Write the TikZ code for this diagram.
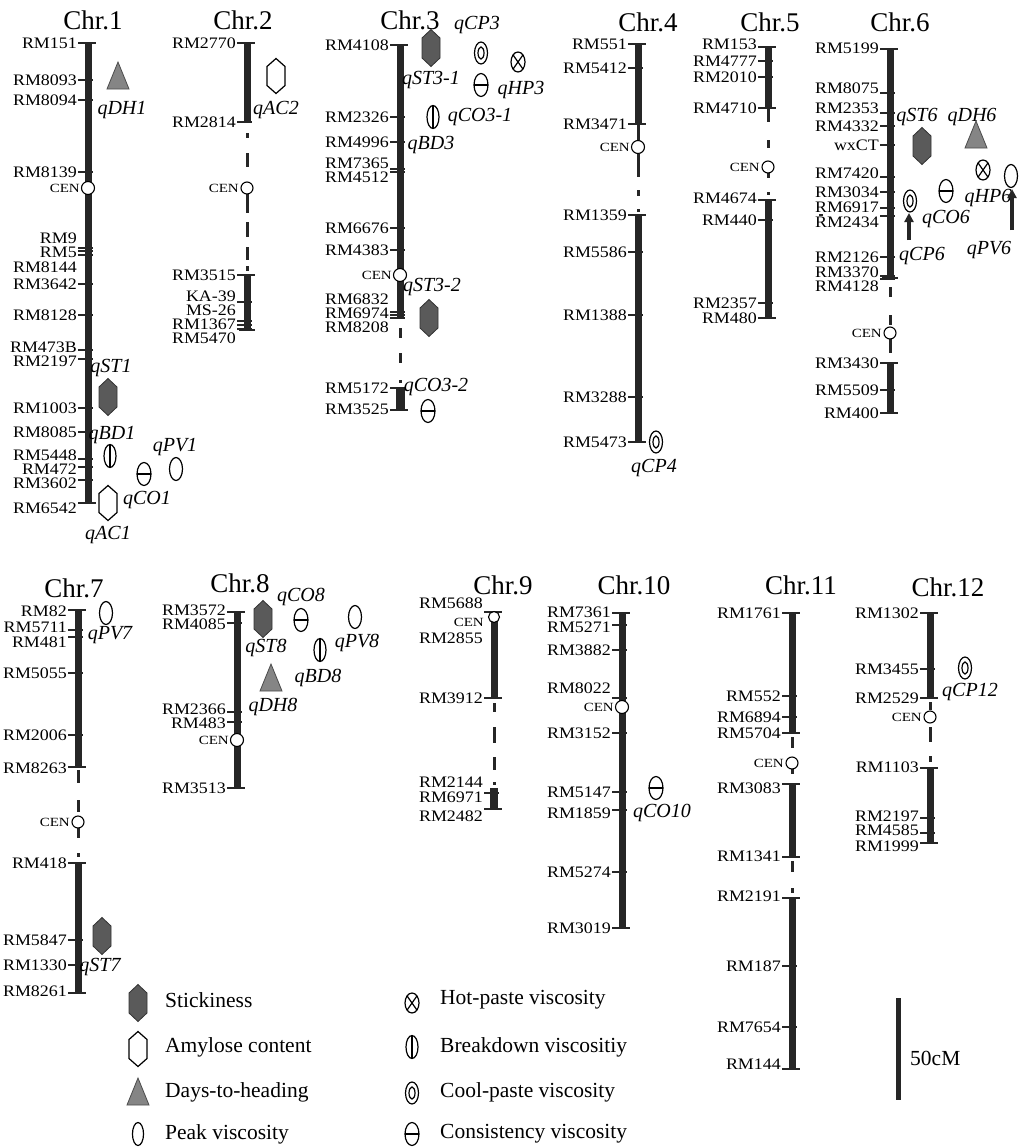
\documentclass[tikz,border=0pt]{standalone}
\usepackage{fontspec}
\setmainfont{Liberation Serif}
\newfontfamily\mkfont{Liberation Serif}[FakeStretch=1.12]
\newfontfamily\cenfont{Liberation Serif}[FakeStretch=1.2]
\usetikzlibrary{arrows.meta}
\newcounter{nn}
\definecolor{barc}{HTML}{262626}
\definecolor{stickc}{HTML}{5A5A5A}
\definecolor{dhc}{HTML}{858585}
\tikzset{
  barln/.style={line width=7pt, draw=barc},
  dshln/.style={line width=3pt, draw=barc},
  tickln/.style={line width=1.1pt, draw=barc},
  capln/.style={line width=1.5pt, draw=barc},
  mklab/.style={anchor=east, inner sep=0pt, font=\mkfont\fontsize{16}{16}\selectfont},
  cenlab/.style={anchor=east, inner sep=0pt, font=\cenfont\fontsize{12.5}{12.5}\selectfont},
  qtl/.style={inner sep=0pt, font=\itshape\fontsize{20}{20}\selectfont},
  chrtitle/.style={inner sep=0pt, font=\fontsize{27}{27}\selectfont},
  leg/.style={anchor=west, inner sep=0pt, font=\fontsize{21.5}{22}\selectfont},
  cencirc/.style={circle, draw=black, fill=white, line width=1.1pt, minimum size=13pt, inner sep=0pt},
  symln/.style={draw=black, line width=1.2pt},
  arr/.style={line width=3.5pt, draw=barc, -{Triangle[width=9pt,length=9pt]}},
  sticksym/.pic={\filldraw[fill=stickc, draw=black!80, line width=0.8pt] (0,-18.5)--(9,-10)--(9,10)--(0,18.5)--(-9,10)--(-9,-10)--cycle;},
  amysym/.pic={\draw[symln, fill=white] (0,-17.5)--(9,-9.5)--(9,9.5)--(0,17.5)--(-9,9.5)--(-9,-9.5)--cycle;},
  dhsym/.pic={\filldraw[fill=dhc, draw=black!70, line width=0.8pt] (-11,13)--(11,13)--(0,-14)--cycle;},
  pvsym/.pic={\draw[symln] (0,0) ellipse (6.5 and 11.5);},
  hpsym/.pic={\draw[symln] (0,0) ellipse (7 and 10); \draw[symln] (-4.95,-7.07)--(4.95,7.07) (-4.95,7.07)--(4.95,-7.07);},
  bdsym/.pic={\draw[symln] (0,0) ellipse (6 and 11.5); \draw[symln] (0,-11.5)--(0,11.5);},
  cpsym/.pic={\draw[symln] (0,0) ellipse (6.5 and 11); \draw[symln] (0,0) ellipse (3 and 6);},
  cosym/.pic={\draw[symln] (0,0) ellipse (7 and 11.5); \draw[symln] (-7,0)--(7,0);},
}
\newcommand\mrk[4]{\stepcounter{nn}\draw[tickln] ({#1-10},#3) -- ({#1+5},#3); \node[mklab] (m\arabic{nn}) at ({#1-11},#2) {#4};}
\newcommand\lab[3]{\stepcounter{nn}\node[mklab] (m\arabic{nn}) at ({#1-11},#2) {#3};}
\newcommand\capl[2]{\draw[capln] ({#1-8},#2) -- ({#1+8},#2);}
\newcommand\seg[3]{\draw[barln] (#1,#2) -- (#1,#3);}
\newcommand\dsh[3]{\draw[dshln] (#1,#2) -- (#1,#3);}
\newcommand\cenm[5]{\node[cencirc, minimum size=#5] (#1) at (#2,#3) {}; \node[cenlab] (#1l) at ({#2-8},#4) {CEN};}
\begin{document}
\begin{tikzpicture}[x=1pt,y=-1pt]
\fill[white] (0,0) rectangle (1018,1148);
\useasboundingbox (0,0) rectangle (1018,1148);

% ---------------- Chr.1
\node[chrtitle] (t1) at (93,20) {Chr.1};
\seg{88}{43}{503}\capl{88}{43}\capl{88}{503}
\mrk{88}{43}{43}{RM151}
\mrk{88}{80}{80}{RM8093}
\mrk{88}{100}{100}{RM8094}
\mrk{88}{172}{172}{RM8139}
\mrk{88}{238}{248}{RM9}
\mrk{88}{252}{251}{RM5}
\mrk{88}{267}{255}{RM8144}
\mrk{88}{284}{284}{RM3642}
\mrk{88}{315}{315}{RM8128}
\mrk{88}{347}{350}{RM473B}
\mrk{88}{361}{359}{RM2197}
\mrk{88}{408}{408}{RM1003}
\mrk{88}{432}{432}{RM8085}
\mrk{88}{455}{459}{RM5448}
\mrk{88}{469}{467}{RM472}
\mrk{88}{483}{480}{RM3602}
\mrk{88}{508}{503}{RM6542}
\cenm{cen1}{88}{188}{188}{13pt}
\pic (s1a) at (118,76) {dhsym};
\node[qtl] (q1a) at (122,110) {qDH1};
\node[qtl] (q1b) at (111,368) {qST1};
\pic (s1b) at (108,397) {sticksym};
\node[qtl] (q1c) at (112,435) {qBD1};
\pic (s1c) at (110,456) {bdsym};
\node[qtl] (q1d) at (175,447) {qPV1};
\pic (s1d) at (176,469) {pvsym};
\pic (s1e) at (144,474) {cosym};
\node[qtl] (q1e) at (147,500) {qCO1};
\pic (s1f) at (108,503) {amysym};
\node[qtl] (q1f) at (108,535) {qAC1};

% ---------------- Chr.2
\node[chrtitle] (t2) at (243,20) {Chr.2};
\seg{247}{43}{122}\capl{247}{43}
\dsh{247}{133}{138}\dsh{247}{153}{167}\dsh{247}{194}{213}\dsh{247}{222}{237}\dsh{247}{247}{260}\dsh{247}{266}{271}
\seg{247}{275}{330}\capl{247}{275}\capl{247}{330}
\mrk{247}{43}{43}{RM2770}
\mrk{247}{122}{122}{RM2814}
\mrk{247}{275}{275}{RM3515}
\mrk{247}{296}{302}{KA-39}
\mrk{247}{310}{321}{MS-26}
\mrk{247}{324}{325}{RM1367}
\mrk{247}{338}{329}{RM5470}
\cenm{cen2}{247}{188}{188}{12pt}
\pic (s2a) at (276,76) {amysym};
\node[qtl] (q2a) at (276,110) {qAC2};

% ---------------- Chr.3
\node[chrtitle] (t3) at (410,20) {Chr.3};
\seg{400}{45}{318}\capl{400}{45}
\dsh{400}{328}{338}\dsh{400}{353}{363}\dsh{400}{380}{383}
\draw[line width=9pt, draw=barc] (400,387) -- (400,410);
\capl{400}{410}
\mrk{400}{45}{45}{RM4108}
\mrk{400}{117}{117}{RM2326}
\mrk{400}{142}{142}{RM4996}
\mrk{400}{163}{169}{RM7365}
\mrk{400}{177}{172}{RM4512}
\mrk{400}{228}{228}{RM6676}
\mrk{400}{250}{250}{RM4383}
\mrk{400}{299}{312}{RM6832}
\mrk{400}{313}{315}{RM6974}
\mrk{400}{327}{318}{RM8208}
\mrk{400}{388}{388}{RM5172}
\mrk{400}{409}{410}{RM3525}
\cenm{cen3}{400}{275}{275}{13pt}
\pic (s3a) at (431,48) {sticksym};
\node[qtl] (q3a) at (477,25) {qCP3};
\pic (s3b) at (481,53) {cpsym};
\pic (s3c) at (518,62) {hpsym};
\node[qtl] (q3b) at (431,80) {qST3-1};
\pic (s3d) at (481,85) {cosym};
\node[qtl] (q3c) at (521,90) {qHP3};
\pic (s3e) at (433,117) {bdsym};
\node[qtl] (q3d) at (480,117) {qCO3-1};
\node[qtl] (q3e) at (431,145) {qBD3};
\node[qtl] (q3f) at (432,287) {qST3-2};
\pic (s3f) at (429,318) {sticksym};
\node[qtl] (q3g) at (436,387) {qCO3-2};
\pic (s3g) at (428,411) {cosym};

% ---------------- Chr.4
\node[chrtitle] (t4) at (648,22) {Chr.4};
\seg{638}{44}{124}\capl{638}{44}\capl{638}{124}
\dsh{638}{124}{140}\dsh{638}{154}{177}\dsh{638}{190}{196}\dsh{638}{209}{212}
\seg{638}{215}{442}\capl{638}{215}\capl{638}{442}
\mrk{638}{44}{44}{RM551}
\mrk{638}{68}{68}{RM5412}
\mrk{638}{124}{124}{RM3471}
\mrk{638}{215}{215}{RM1359}
\mrk{638}{252}{252}{RM5586}
\mrk{638}{315}{315}{RM1388}
\mrk{638}{397}{397}{RM3288}
\mrk{638}{442}{442}{RM5473}
\cenm{cen4}{638}{147}{147}{13pt}
\pic (s4a) at (656,442) {cpsym};
\node[qtl] (q4a) at (654,468) {qCP4};

% ---------------- Chr.5
\node[chrtitle] (t5) at (770,22) {Chr.5};
\seg{768}{47}{108}\capl{768}{47}\capl{768}{108}
\dsh{768}{108}{122}\dsh{768}{140}{148}\dsh{768}{173}{178}\dsh{768}{192}{195}
\seg{768}{200}{318}\capl{768}{200}\capl{768}{318}
\mrk{768}{44}{47}{RM153}
\mrk{768}{61}{61}{RM4777}
\mrk{768}{77}{77}{RM2010}
\mrk{768}{108}{108}{RM4710}
\mrk{768}{198}{200}{RM4674}
\mrk{768}{220}{220}{RM440}
\mrk{768}{303}{303}{RM2357}
\mrk{768}{318}{318}{RM480}
\cenm{cen5}{768}{167}{167}{12pt}

% ---------------- Chr.6
\node[chrtitle] (t6) at (900,22) {Chr.6};
\seg{890}{49}{278}\capl{890}{49}\capl{890}{278}
\dsh{890}{287}{297}\dsh{890}{315}{325}\dsh{890}{339}{353}
\seg{890}{363}{413}\capl{890}{363}\capl{890}{413}
\mrk{890}{48}{49}{RM5199}
\mrk{890}{88}{93}{RM8075}
\mrk{890}{108}{113}{RM2353}
\mrk{890}{126}{126}{RM4332}
\mrk{890}{145}{145}{wxCT}
\mrk{890}{173}{177}{RM7420}
\mrk{890}{192}{192}{RM3034}
\mrk{890}{207}{208}{RM6917}
\mrk{890}{222}{216}{RM2434}
\draw[tickln] (819,215) -- (823,215);
\mrk{890}{257}{257}{RM2126}
\mrk{890}{272}{276}{RM3370}
\mrk{890}{286}{279}{RM4128}
\mrk{890}{363}{363}{RM3430}
\mrk{890}{390}{390}{RM5509}
\mrk{890}{413}{413}{RM400}
\cenm{cen6}{890}{333}{333}{12pt}
\node[qtl] (q6a) at (917,117) {qST6};
\node[qtl] (q6b) at (972,117) {qDH6};
\pic (s6a) at (922,146) {sticksym};
\pic (s6b) at (976,135) {dhsym};
\pic (s6c) at (983,170) {hpsym};
\pic (s6d) at (1011,176) {pvsym};
\pic (s6e) at (946,191) {cosym};
\node[qtl] (q6c) at (988,198) {qHP6};
\pic (s6f) at (910,201) {cpsym};
\node[qtl] (q6d) at (946,219) {qCO6};
\node[qtl] (q6e) at (922,256) {qCP6};
\node[qtl] (q6f) at (989,250) {qPV6};
\coordinate (a6a) at (909,240);
\coordinate (a6b) at (909,213);
\coordinate (a6c) at (1012,230);
\coordinate (a6d) at (1012,189);
\draw[arr] (a6a) -- (a6b);
\draw[arr] (a6c) -- (a6d);

% ---------------- Chr.7
\node[chrtitle] (t7) at (74,588) {Chr.7};
\seg{78}{610}{767}\capl{78}{610}\capl{78}{767}
\dsh{78}{770}{783}\dsh{78}{800}{812}\dsh{78}{828}{838}\dsh{78}{853}{857}
\seg{78}{863}{993}\capl{78}{863}\capl{78}{993}
\mrk{78}{611}{610}{RM82}
\mrk{78}{627}{630}{RM5711}
\mrk{78}{642}{637}{RM481}
\mrk{78}{673}{673}{RM5055}
\mrk{78}{735}{735}{RM2006}
\mrk{78}{768}{767}{RM8263}
\mrk{78}{863}{863}{RM418}
\mrk{78}{940}{940}{RM5847}
\mrk{78}{965}{965}{RM1330}
\mrk{78}{991}{993}{RM8261}
\cenm{cen7}{78}{822}{822}{12pt}
\pic (s7a) at (106,613) {pvsym};
\node[qtl] (q7a) at (110,635) {qPV7};
\pic (s7b) at (102,936) {sticksym};
\node[qtl] (q7b) at (100,967) {qST7};

% ---------------- Chr.8
\node[chrtitle] (t8) at (240,583) {Chr.8};
\seg{237}{612}{788}\capl{237}{612}\capl{237}{788}
\mrk{237}{610}{612}{RM3572}
\mrk{237}{624}{623}{RM4085}
\mrk{237}{709}{712}{RM2366}
\mrk{237}{723}{722}{RM483}
\mrk{237}{788}{788}{RM3513}
\cenm{cen8}{237}{740}{740}{13pt}
\pic (s8a) at (263,619) {sticksym};
\node[qtl] (q8a) at (301,597) {qCO8};
\pic (s8b) at (301,620) {cosym};
\pic (s8c) at (355,617) {pvsym};
\node[qtl] (q8b) at (266,648) {qST8};
\pic (s8d) at (320,650) {bdsym};
\node[qtl] (q8c) at (357,643) {qPV8};
\pic (s8e) at (271,678) {dhsym};
\node[qtl] (q8d) at (318,678) {qBD8};
\node[qtl] (q8e) at (273,707) {qDH8};

% ---------------- Chr.9
\node[chrtitle] (t9) at (503,585) {Chr.9};
\seg{494}{618}{698}\capl{494}{612}\capl{494}{698}
\dsh{494}{703}{712}\dsh{494}{727}{743}\dsh{494}{757}{770}\dsh{494}{782}{785}
\draw[line width=8pt, draw=barc] (494,788) -- (494,809);
\capl{494}{809}
\mrk{494}{603}{612}{RM5688}
\lab{494}{638}{RM2855}
\mrk{494}{698}{698}{RM3912}
\lab{494}{782}{RM2144}
\mrk{494}{797}{793}{RM6971}
\mrk{494}{816}{809}{RM2482}
\node[cencirc, minimum size=11pt] (cen9) at (494,617) {};
\node[cenlab] (cen9l) at (484,622) {CEN};

% ---------------- Chr.10
\node[chrtitle] (t10) at (634,585) {Chr.10};
\seg{622}{613}{928}\capl{622}{613}\capl{622}{928}
\mrk{622}{612}{613}{RM7361}
\mrk{622}{627}{625}{RM5271}
\mrk{622}{650}{650}{RM3882}
\mrk{622}{688}{698}{RM8022}
\mrk{622}{733}{733}{RM3152}
\mrk{622}{792}{792}{RM5147}
\mrk{622}{813}{810}{RM1859}
\mrk{622}{872}{872}{RM5274}
\mrk{622}{928}{928}{RM3019}
\cenm{cen10}{622}{707}{707}{13pt}
\pic (s10a) at (656,788) {cosym};
\node[qtl] (q10a) at (662,813) {qCO10};

% ---------------- Chr.11
\node[chrtitle] (t11) at (801,585) {Chr.11};
\seg{792}{613}{733}\capl{792}{613}\capl{792}{733}
\dsh{792}{737}{748}\dsh{792}{769}{774}
\seg{792}{784}{857}\capl{792}{784}\capl{792}{857}
\dsh{792}{861}{872}\dsh{792}{888}{893}
\seg{792}{898}{1069}\capl{792}{898}\capl{792}{1069}
\mrk{792}{613}{613}{RM1761}
\mrk{792}{696}{696}{RM552}
\mrk{792}{717}{717}{RM6894}
\mrk{792}{733}{733}{RM5704}
\mrk{792}{788}{784}{RM3083}
\mrk{792}{856}{857}{RM1341}
\mrk{792}{896}{898}{RM2191}
\mrk{792}{966}{966}{RM187}
\mrk{792}{1027}{1027}{RM7654}
\mrk{792}{1064}{1069}{RM144}
\cenm{cen11}{792}{763}{763}{12pt}

% ---------------- Chr.12
\node[chrtitle] (t12) at (948,587) {Chr.12};
\seg{930}{613}{698}\capl{930}{613}\capl{930}{698}
\dsh{930}{702}{710}\dsh{930}{727}{742}\dsh{930}{756}{762}
\seg{930}{768}{843}\capl{930}{768}\capl{930}{843}
\mrk{930}{613}{613}{RM1302}
\mrk{930}{669}{669}{RM3455}
\mrk{930}{698}{698}{RM2529}
\mrk{930}{767}{768}{RM1103}
\mrk{930}{816}{818}{RM2197}
\mrk{930}{830}{833}{RM4585}
\mrk{930}{846}{843}{RM1999}
\cenm{cen12}{930}{717}{717}{12pt}
\pic (s12a) at (965,668) {cpsym};
\node[qtl] (q12a) at (970,692) {qCP12};

% ---------------- scale bar
\coordinate (sb1) at (898,998);
\coordinate (sb2) at (898,1100);
\draw[line width=5pt, draw=barc] (sb1) -- (sb2);
\node[leg] (sbl) at (910,1058) {50cM};

% ---------------- legend
\pic (l1) at (138,1003) {sticksym};
\node[leg] (lt1) at (165,1000) {Stickiness};
\pic (l2) at (138,1049) {amysym};
\node[leg] (lt2) at (165,1047) {Amylose content};
\pic (l3) at (138,1092) {dhsym};
\node[leg] (lt3) at (165,1092) {Days-to-heading};
\pic[xscale=0.85] (l4) at (138,1134) {pvsym};
\node[leg] (lt4) at (165,1134) {Peak viscosity};
\pic (l5) at (412,1003) {hpsym};
\node[leg] (lt5) at (440,1000) {Hot-paste viscosity};
\pic (l6) at (412,1047) {bdsym};
\node[leg] (lt6) at (440,1047) {Breakdown viscositiy};
\pic (l7) at (412,1093) {cpsym};
\node[leg] (lt7) at (440,1092) {Cool-paste viscosity};
\pic (l8) at (412,1134) {cosym};
\node[leg] (lt8) at (440,1134) {Consistency viscosity};
\end{tikzpicture}
\end{document}
